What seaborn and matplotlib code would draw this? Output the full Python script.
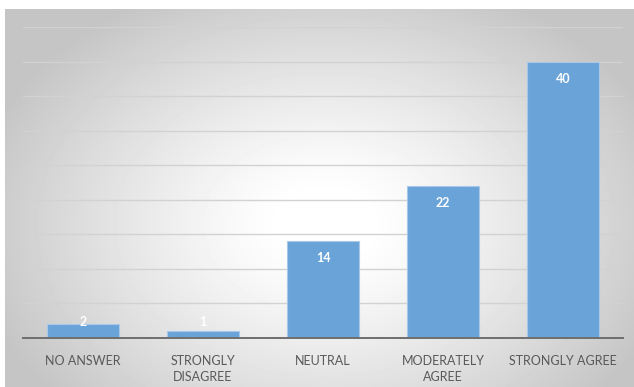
import numpy as np
import pandas as pd
import matplotlib
matplotlib.use('Agg')
import matplotlib.pyplot as plt
import seaborn as sns

# ── Data ─────────────────────────────────────────────
categories = ['NO ANSWER', 'STRONGLY\nDISAGREE', 'NEUTRAL',
              'MODERATELY\nAGREE', 'STRONGLY AGREE']
responses = [2, 1, 14, 22, 40]

df = pd.DataFrame({'Answer': categories, 'Count': responses})

sns.set_theme(style='white')
plt.rcParams['font.family'] = ['Lato', 'DejaVu Sans']

W, H = 634, 387
fig = plt.figure(figsize=(W / 100, H / 100), dpi=100)
fig.patch.set_facecolor('white')

# ── Radial gradient background ───────────────────────
bg = fig.add_axes([5 / W, 0, 1 - 5 / W, 1 - 9 / H])
yy, xx = np.mgrid[0:378, 0:629]
cx, cy = 320, 215
r = np.sqrt(((xx - cx) / 360) ** 2 + ((yy - cy) / 260) ** 2)
r = np.clip((r - 0.12) / 0.88, 0, 1)
shade = 1 - 0.23 * r ** 1.2
bg.imshow(shade, cmap='gray', vmin=0, vmax=1, aspect='auto',
          interpolation='bilinear')
bg.set_axis_off()

# ── Bars ──────────────────────────────────────────────
ax = fig.add_axes([23 / W, 1 - 338 / H, 600 / W, (338 - 27) / H])
ax.set_facecolor('none')
sns.barplot(data=df, x='Answer', y='Count', color='#6aa3d8',
            saturation=1, width=0.6, edgecolor='#a8c8ea',
            linewidth=0.8, ax=ax, zorder=3)
ax.set_xlim(-0.5, 4.5)
ax.set_ylim(0, 45)
ax.set_yticks(np.arange(0, 46, 5))
ax.yaxis.grid(True, color='#d2d2d2', linewidth=1.0, zorder=0)
ax.set_axisbelow(True)
ax.tick_params(axis='y', left=False, labelleft=False)
ax.tick_params(axis='x', bottom=False, labelsize=9,
               labelcolor='#595959', pad=6)
for lbl in ax.get_xticklabels():
    lbl.set_linespacing(1.45)
ax.set_xlabel('')
ax.set_ylabel('')
for s in ['top', 'right', 'left']:
    ax.spines[s].set_visible(False)
ax.spines['bottom'].set_color('#6e6e6e')
ax.spines['bottom'].set_linewidth(1.4)
ax.spines['bottom'].set_zorder(4)

for i, v in enumerate(responses):
    ax.text(i, max(v - 2.46, 2.3), str(v), ha='center', va='center',
            color='white', fontsize=9, fontweight='bold', zorder=5)

plt.savefig('out.png', dpi=100)
plt.close()
